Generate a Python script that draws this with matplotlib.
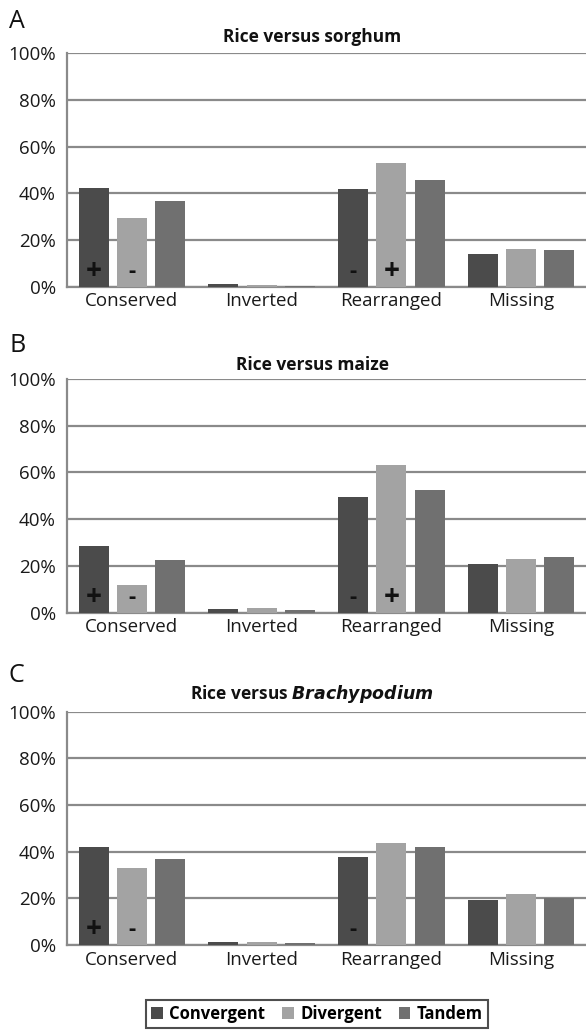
import numpy as np
import matplotlib.pyplot as plt
from matplotlib.ticker import PercentFormatter
from matplotlib.patches import Patch

plt.rcParams['font.family'] = ['Open Sans', 'DejaVu Sans']

categories = ['Conserved', 'Inverted', 'Rearranged', 'Missing']
series = ['Convergent', 'Divergent', 'Tandem']
colors = ['#4b4b4b', '#a3a3a3', '#707070']

# percent of gene pairs per class, one list per orientation
sorghum_convergent = [42.2, 1.0, 41.7, 14.0]
sorghum_divergent = [29.3, 0.6, 52.9, 16.0]
sorghum_tandem = [36.9, 0.3, 45.9, 15.9]

maize_convergent = [28.5, 1.4, 49.6, 20.7]
maize_divergent = [11.8, 2.1, 63.3, 22.8]
maize_tandem = [22.7, 1.0, 52.5, 23.7]

brachy_convergent = [41.9, 1.4, 37.6, 19.2]
brachy_divergent = [32.9, 1.2, 43.7, 22.0]
brachy_tandem = [36.9, 0.8, 42.0, 20.3]

# significance marks: (category index, series index, sign)
sorghum_marks = [(0, 0, '+'), (0, 1, '-'), (2, 0, '-'), (2, 1, '+')]
maize_marks = [(0, 0, '+'), (0, 1, '-'), (2, 0, '-'), (2, 1, '+')]
brachy_marks = [(0, 0, '+'), (0, 1, '-'), (2, 0, '-')]

panels = [
    ('A', 'Rice versus sorghum',
     [sorghum_convergent, sorghum_divergent, sorghum_tandem], sorghum_marks),
    ('B', 'Rice versus maize',
     [maize_convergent, maize_divergent, maize_tandem], maize_marks),
    ('C', r'Rice versus $\mathbfit{Brachypodium}$',
     [brachy_convergent, brachy_divergent, brachy_tandem], brachy_marks),
]

W, H = 586, 1030
fig = plt.figure(figsize=(W / 100, H / 100), dpi=100)

# pixel positions of each panel: (top of plot, bottom of plot)
boxes = [(53.3, 286.7), (379.0, 612.7), (711.7, 945.0)]
letter_y = [22, 346, 676]
title_y = [37, 365, 694]
left, right = 67, 586

x = np.arange(len(categories))
step = 0.295
width = 0.231
grid_color = '#8a8a8a'

for (letter, title, values, marks), (top, bot), ly, ty in zip(panels, boxes, letter_y, title_y):
    ax = fig.add_axes([left / W, 1 - bot / H, (right - left) / W, (bot - top) / H])
    for i, (vals, c) in enumerate(zip(values, colors)):
        ax.bar(x + (i - 1) * step, vals, width, color=c, zorder=3)
    for ci, si, sign in marks:
        ax.text(x[ci] + (si - 1) * step, 6.5, sign, ha='center', va='center',
                fontsize=20 if sign == '+' else 16, fontweight='bold',
                color='#111111', zorder=4)
    ax.set_xlim(-0.5, 3.5)
    ax.set_ylim(0, 100)
    ax.set_yticks(np.arange(0, 101, 20))
    ax.yaxis.set_major_formatter(PercentFormatter(decimals=0))
    ax.set_xticks(x)
    ax.set_xticklabels(categories)
    ax.tick_params(length=0, labelsize=13.5, colors='#1a1a1a', pad=4)
    ax.tick_params(axis='y', pad=8)
    ax.grid(axis='y', color=grid_color, linewidth=1.6, zorder=0)
    for side in ['top', 'right']:
        ax.spines[side].set_visible(False)
    for side in ['left', 'bottom']:
        ax.spines[side].set_color(grid_color)
        ax.spines[side].set_linewidth(1.6)
    fig.text(9 / W, 1 - ly / H, letter, fontsize=18, va='center', ha='left',
             color='#111111')
    fig.text(312 / W, 1 - ty / H, title, fontsize=12.5, fontweight='bold',
             ha='center', va='center', color='#111111')

handles = [Patch(facecolor=c, label=s) for c, s in zip(colors, series)]
leg = fig.legend(handles=handles, loc='center', ncol=3,
                 bbox_to_anchor=(317 / W, 1 - 1014 / H),
                 prop={'size': 12, 'weight': 'bold'}, frameon=True,
                 fancybox=False, handlelength=0.7, handleheight=0.7,
                 handletextpad=0.4, columnspacing=1.0, borderpad=0.3)
leg.get_frame().set_edgecolor('#222222')
leg.get_frame().set_linewidth(1.5)

fig.savefig('out.png', dpi=100)
